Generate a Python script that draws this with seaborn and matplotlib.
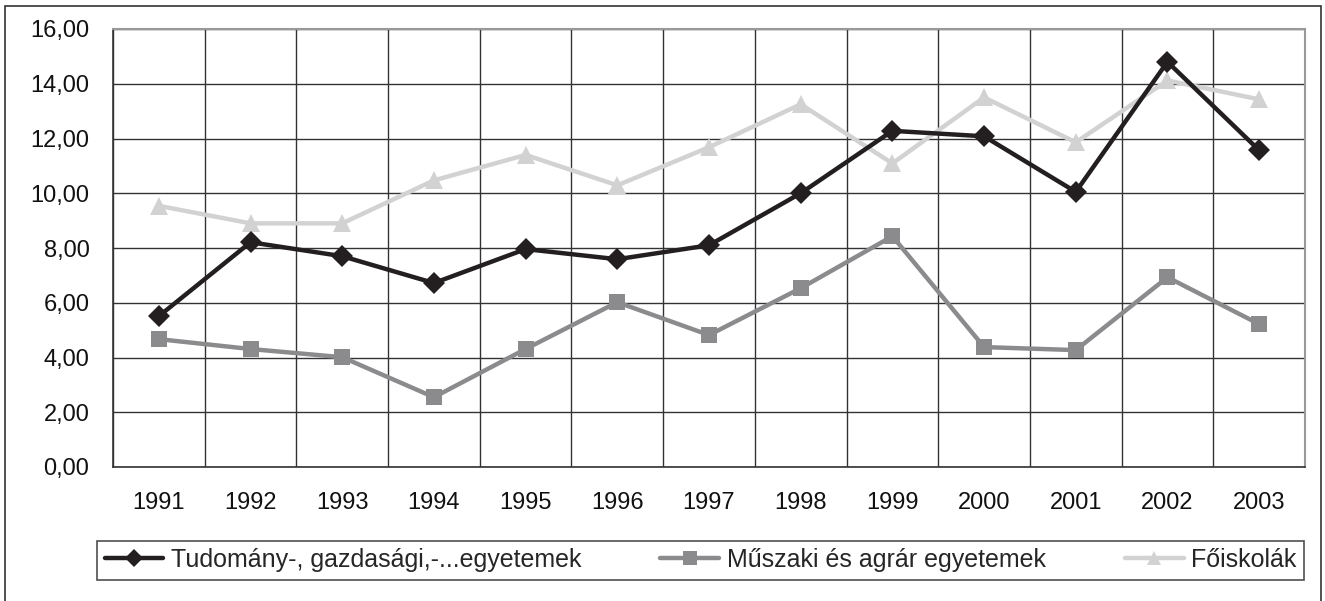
import pandas as pd
import seaborn as sns
import matplotlib.pyplot as plt
from matplotlib.ticker import FixedLocator, FuncFormatter, MultipleLocator
from matplotlib.patches import Rectangle

years = ["1991", "1992", "1993", "1994", "1995", "1996", "1997",
         "1998", "1999", "2000", "2001", "2002", "2003"]
tudomany = [5.51, 8.21, 7.70, 6.72, 7.96, 7.59, 8.10, 10.00, 12.28, 12.08, 10.05, 14.80, 11.57]
muszaki = [4.67, 4.31, 4.01, 2.55, 4.31, 6.02, 4.82, 6.53, 8.43, 4.38, 4.27, 6.93, 5.22]
foiskolak = [9.54, 8.90, 8.90, 10.47, 11.40, 10.29, 11.68, 13.25, 11.09, 13.50, 11.86, 14.12, 13.43]

labels = ["Tudomány-, gazdasági,-...egyetemek", "Műszaki és agrár egyetemek", "Főiskolák"]
colors = ["#231f20", "#8b8b8e", "#d2d2d2"]
markers = ["D", "s", "^"]

sns.set_style("white")
plt.rcParams["font.family"] = ["Liberation Sans", "DejaVu Sans"]

fig = plt.figure(figsize=(13.25, 6.01), dpi=100)
ax = fig.add_axes([113 / 1325, 1 - 467 / 601, (1305 - 113) / 1325, (467 - 29) / 601])

series = [tudomany, muszaki, foiskolak]
msizes = [11.5, 12, 13]
for vals, lab, col, mk, ms in zip(series[::-1], labels[::-1], colors[::-1], markers[::-1], msizes[::-1]):
    df = pd.DataFrame({"year": years, "value": vals})
    sns.lineplot(data=df, x="year", y="value", ax=ax, color=col, marker=mk,
                 markersize=ms, markeredgewidth=0, linewidth=3.2, label=lab)

ax.set_xlim(-0.5, len(years) - 0.5)
ax.set_ylim(0, 16)
ax.yaxis.set_major_locator(MultipleLocator(2))
ax.yaxis.set_major_formatter(FuncFormatter(lambda v, p: f"{v:.2f}".replace(".", ",")))
ax.xaxis.set_minor_locator(FixedLocator([i - 0.5 for i in range(len(years) + 1)]))
ax.tick_params(axis="x", which="major", length=0, labelsize=17, pad=18, colors="#111111")
ax.tick_params(axis="x", which="minor", length=7, width=1, color="#333333", direction="out")
ax.tick_params(axis="y", which="major", length=7, width=1, color="#333333",
               direction="out", labelsize=17, pad=10, colors="#111111")
ax.grid(True, axis="y", which="major", color="#333333", linewidth=1)
ax.grid(True, axis="x", which="minor", color="#333333", linewidth=1)
ax.grid(False, axis="x", which="major")
ax.set_axisbelow(True)
ax.set_xlabel("")
ax.set_ylabel("")
for side in ["top", "right"]:
    ax.spines[side].set_color("#999999")
    ax.spines[side].set_linewidth(1.5)
for side in ["left", "bottom"]:
    ax.spines[side].set_color("#333333")
    ax.spines[side].set_linewidth(1.2)

handles, labs = ax.get_legend_handles_labels()
leg = ax.legend(handles[::-1], labs[::-1], loc="center", ncol=3, mode="expand",
                bbox_to_anchor=((97 - 113) / 1192, (467 - 581) / 438,
                                (1304 - 97) / 1192, 42 / 438),
                frameon=True, fancybox=False, edgecolor="#222222", fontsize=18,
                handlelength=2.35, handletextpad=0.3, borderpad=0.3,
                borderaxespad=0, markerscale=0.8)
leg.get_frame().set_linewidth(1.2)

fig.patches.append(Rectangle((5 / 1325, -0.01), (1321 - 5) / 1325, 1 - 6 / 601 + 0.01,
                             transform=fig.transFigure, fill=False,
                             edgecolor="#333333", linewidth=1.2))

fig.savefig("out.png", dpi=100)
